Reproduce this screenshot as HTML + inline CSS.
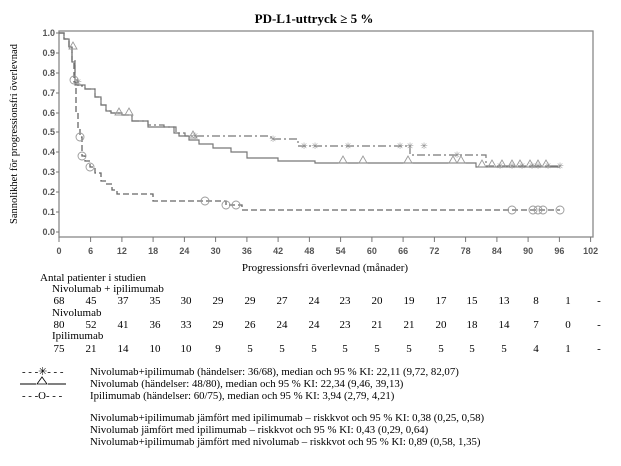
<!DOCTYPE html>
<html><head><meta charset="utf-8"><style>
html,body{margin:0;padding:0;background:#fff;}
svg{display:block;font-family:"Liberation Serif",serif;}
.t{font-family:"Liberation Sans",sans-serif;font-size:9px;fill:#555;font-weight:bold;}
</style></head><body>
<svg width="621" height="466" viewBox="0 0 621 466" xmlns="http://www.w3.org/2000/svg">
<rect width="621" height="466" fill="#fff"/>
<text x="314" y="23" font-size="13" font-weight="bold" text-anchor="middle">PD-L1-uttryck ≥ 5 %</text>
<rect x="59" y="31" width="534" height="206" fill="none" stroke="#888" stroke-width="1.3"/>
<g class="t" text-anchor="end">
<text x="55" y="36">1.0</text><text x="55" y="56">0.9</text><text x="55" y="76">0.8</text><text x="55" y="96">0.7</text><text x="55" y="116">0.6</text><text x="55" y="135">0.5</text><text x="55" y="155">0.4</text><text x="55" y="175">0.3</text><text x="55" y="195">0.2</text><text x="55" y="215">0.1</text><text x="55" y="235">0.0</text>
</g>
<g stroke="#777" stroke-width="1">
<path d="M56 33h3M56 53h3M56 73h3M56 93h3M56 113h3M56 132h3M56 152h3M56 172h3M56 192h3M56 212h3M56 232h3"/>
<path d="M59 237v5M90.6 237v5M121.9 237v5M153.1 237v5M184.4 237v5M215.6 237v5M246.9 237v5M278.1 237v5M309.4 237v5M340.6 237v5M371.9 237v5M403.1 237v5M434.4 237v5M465.6 237v5M496.9 237v5M528.1 237v5M559.4 237v5M590.6 237v5"/>
</g>
<g class="t" text-anchor="middle">
<text x="59" y="254">0</text><text x="90.6" y="254">6</text><text x="121.9" y="254">12</text><text x="153.1" y="254">18</text><text x="184.4" y="254">24</text><text x="215.6" y="254">30</text><text x="246.9" y="254">36</text><text x="278.1" y="254">42</text><text x="309.4" y="254">48</text><text x="340.6" y="254">54</text><text x="371.9" y="254">60</text><text x="403.1" y="254">66</text><text x="434.4" y="254">72</text><text x="465.6" y="254">78</text><text x="496.9" y="254">84</text><text x="528.1" y="254">90</text><text x="559.4" y="254">96</text><text x="590.6" y="254">102</text>
</g>
<text x="325" y="271" font-size="11" text-anchor="middle">Progressionsfri överlevnad (månader)</text>
<text transform="translate(17,134) rotate(-90)" font-size="10.5" text-anchor="middle">Sannolikhet för progressionsfri överlevnad</text>

<path fill="none" stroke="#666" stroke-width="1.3" stroke-dasharray="6,3" d="M59 33H64V39H69V47H72V62H74V82H76V113H78V129H80V137H82V156H85V161H90V167H95V173H101V181H106V184H112V190H117V194H122V194H153V201H226V205H242V210H560"/>
<path fill="none" stroke="#777" stroke-width="1.2" d="M59 33H64V39H69V47H72V62H75V85H85V89H95V97H101V105H106V111H111V113H122V115H132V121H148V127H174V133H179V136H189V140H199V144H213V148H231V152H247V158H278V161H315V163H476V167H560"/>
<path fill="none" stroke="#777" stroke-width="1.2" stroke-dasharray="8,3,2,3" d="M59 33H64V39H69V47H72V60H75V80H78V86H85V89H95V97H101V105H106V111H111V113H122V115H132V121H148V125H164V127H176V133H185V136H271V139H298V146H410V155H486V166H560"/>
<g fill="none" stroke="#999" stroke-width="0.9">
<circle cx="80" cy="137" r="4"/><circle cx="82" cy="156" r="4"/><circle cx="90" cy="167" r="4"/><circle cx="205" cy="201" r="4"/><circle cx="226" cy="205" r="4"/><circle cx="236" cy="205" r="4"/><circle cx="74" cy="80" r="4"/>
<circle cx="512" cy="210" r="4"/><circle cx="533" cy="210" r="4"/><circle cx="538" cy="210" r="4"/><circle cx="543" cy="210" r="4"/><circle cx="560" cy="210" r="4"/>
<path d="M339 163l4-7 4 7z"/><path d="M359 163l4-7 4 7z"/><path d="M404 163l4-7 4 7z"/><path d="M449 163l4-7 4 7z"/><path d="M457 163l4-7 4 7z"/><path d="M478 167l4-7 4 7z"/><path d="M488 167l4-7 4 7z"/><path d="M498 167l4-7 4 7z"/><path d="M508 167l4-7 4 7z"/><path d="M516 167l4-7 4 7z"/><path d="M526 167l4-7 4 7z"/><path d="M534 167l4-7 4 7z"/><path d="M542 167l4-7 4 7z"/><path d="M115 115l4-7 4 7z"/><path d="M125 115l4-7 4 7z"/><path d="M189 138l4-7 4 7z"/><path d="M69 49l4-7 4 7z"/>
</g>
<g fill="#888" font-size="9" text-anchor="middle" font-family="Liberation Sans,sans-serif">
<text x="78" y="85">✳</text><text x="195" y="139">✳</text><text x="273" y="142">✳</text><text x="304" y="149">✳</text><text x="315" y="149">✳</text><text x="348" y="149">✳</text><text x="400" y="149">✳</text><text x="410" y="149">✳</text><text x="424" y="149">✳</text><text x="457" y="158">✳</text><text x="500" y="169">✳</text><text x="512" y="169">✳</text><text x="522" y="169">✳</text><text x="532" y="169">✳</text><text x="538" y="169">✳</text><text x="548" y="169">✳</text><text x="560" y="169">✳</text>
</g>

<g font-size="11">
<text x="40" y="281">Antal patienter i studien</text>
<text x="52" y="292">Nivolumab + ipilimumab</text>
<text x="52" y="316">Nivolumab</text>
<text x="52" y="339">Ipilimumab</text>
</g>
<g font-size="11" text-anchor="middle">
<text y="304"><tspan x="59">68</tspan><tspan x="91">45</tspan><tspan x="123">37</tspan><tspan x="155">35</tspan><tspan x="186">30</tspan><tspan x="218">29</tspan><tspan x="250">29</tspan><tspan x="282">27</tspan><tspan x="314">24</tspan><tspan x="345">23</tspan><tspan x="377">20</tspan><tspan x="409">19</tspan><tspan x="441">17</tspan><tspan x="472">15</tspan><tspan x="504">13</tspan><tspan x="536">8</tspan><tspan x="568">1</tspan><tspan x="599">-</tspan></text>
<text y="328"><tspan x="59">80</tspan><tspan x="91">52</tspan><tspan x="123">41</tspan><tspan x="155">36</tspan><tspan x="186">33</tspan><tspan x="218">29</tspan><tspan x="250">26</tspan><tspan x="282">24</tspan><tspan x="314">24</tspan><tspan x="345">23</tspan><tspan x="377">21</tspan><tspan x="409">21</tspan><tspan x="441">20</tspan><tspan x="472">18</tspan><tspan x="504">14</tspan><tspan x="536">7</tspan><tspan x="568">0</tspan><tspan x="599">-</tspan></text>
<text y="352"><tspan x="59">75</tspan><tspan x="91">21</tspan><tspan x="123">14</tspan><tspan x="155">10</tspan><tspan x="186">10</tspan><tspan x="218">9</tspan><tspan x="250">5</tspan><tspan x="282">5</tspan><tspan x="314">5</tspan><tspan x="345">5</tspan><tspan x="377">5</tspan><tspan x="409">5</tspan><tspan x="441">5</tspan><tspan x="472">5</tspan><tspan x="504">5</tspan><tspan x="536">4</tspan><tspan x="568">1</tspan><tspan x="599">-</tspan></text>
</g>
<g font-size="10.8">
<text x="22" y="375">- - -✳- - -</text>
<text x="90" y="375">Nivolumab+ipilimumab (händelser: 36/68), median och 95 % KI: 22,11 (9,72, 82,07)</text>
<path d="M20 384H36M48 384H66" stroke="#000" stroke-width="1"/><path d="M37 384l5-7 5 7z" fill="none" stroke="#000" stroke-width="0.8"/>
<text x="90" y="387">Nivolumab (händelser: 48/80), median och 95 % KI: 22,34 (9,46, 39,13)</text>
<text x="22" y="399">- - -O- - -</text>
<text x="90" y="399">Ipilimumab (händelser: 60/75), median och 95 % KI: 3,94 (2,79, 4,21)</text>
<text x="90" y="421">Nivolumab+ipilimumab jämfört med ipilimumab – riskkvot och 95 % KI: 0,38 (0,25, 0,58)</text>
<text x="90" y="433">Nivolumab jämfört med ipilimumab – riskkvot och 95 % KI: 0,43 (0,29, 0,64)</text>
<text x="90" y="445">Nivolumab+ipilimumab jämfört med nivolumab – riskkvot och 95 % KI: 0,89 (0,58, 1,35)</text>
</g>
</svg>
</body></html>
